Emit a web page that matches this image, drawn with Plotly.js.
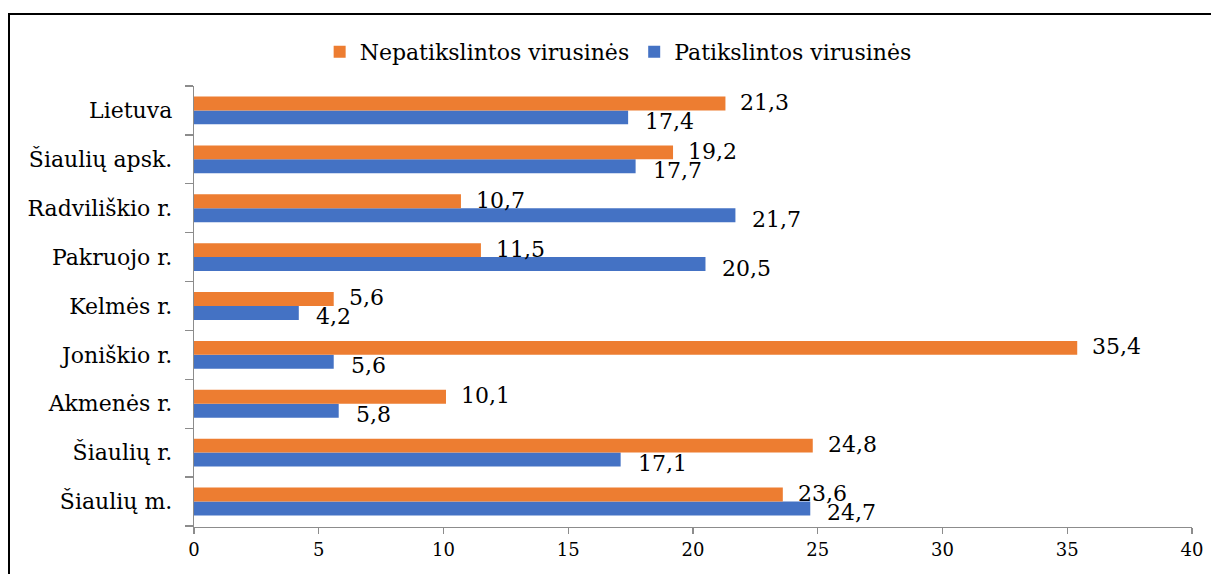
<!DOCTYPE html>
<html>
<head>
<meta charset="utf-8">
<script src="https://cdn.plot.ly/plotly-3.0.1.min.js"></script>
<style>
  html, body { margin: 0; padding: 0; background: #fff; }
  #wrap { position: relative; width: 1211px; height: 574px; overflow: hidden; }
  #chart { width: 1211px; height: 574px; }
  .frameTop { position: absolute; left: 8px; top: 13px; width: 1203px; height: 2px; background: #000; pointer-events: none; }
  .frameLeft { position: absolute; left: 8px; top: 13px; width: 2px; height: 561px; background: #000; pointer-events: none; }
</style>
</head>
<body>
<div id="wrap">
  <div id="chart"></div>
  <div class="frameTop"></div>
  <div class="frameLeft"></div>
</div>
<script>
// Categories listed from bottom to top of the chart
const categories = ['Šiaulių m.', 'Šiaulių r.', 'Akmenės r.', 'Joniškio r.', 'Kelmės r.',
                    'Pakruojo r.', 'Radviliškio r.', 'Šiaulių apsk.', 'Lietuva'];
const nepatikslintos = [23.6, 24.8, 10.1, 35.4, 5.6, 11.5, 10.7, 19.2, 21.3];
const patikslintos   = [24.7, 17.1, 5.8, 5.6, 4.2, 20.5, 21.7, 17.7, 17.4];
const seriesNames = ['Nepatikslintos virusinės', 'Patikslintos virusinės'];
const xTicks = [0, 5, 10, 15, 20, 25, 30, 35, 40];

const FONT = 'DejaVu Serif';
const ORANGE = '#ED7D31';
const BLUE = '#4472C4';

const fmt = v => v.toFixed(1).replace('.', ',');

const traces = [
  {
    type: 'bar', orientation: 'h', name: seriesNames[1],
    y: categories, x: patikslintos,
    marker: { color: BLUE }, legendrank: 2, hoverinfo: 'x+y'
  },
  {
    type: 'bar', orientation: 'h', name: seriesNames[0],
    y: categories, x: nepatikslintos,
    marker: { color: ORANGE }, legendrank: 1, hoverinfo: 'x+y'
  }
];

const annotations = [];
categories.forEach((c, i) => {
  annotations.push({
    xref: 'x', yref: 'y', x: nepatikslintos[i], y: c,
    text: fmt(nepatikslintos[i]), showarrow: false,
    xanchor: 'left', yanchor: 'middle', xshift: 13, yshift: 8,
    font: { family: FONT, size: 22, color: '#000' }
  });
  annotations.push({
    xref: 'x', yref: 'y', x: patikslintos[i], y: c,
    text: fmt(patikslintos[i]), showarrow: false,
    xanchor: 'left', yanchor: 'middle', xshift: 15, yshift: -11,
    font: { family: FONT, size: 22, color: '#000' }
  });
});

const layout = {
  width: 1211, height: 574,
  margin: { l: 194, r: 19, t: 86, b: 47, pad: 0 },
  paper_bgcolor: '#fff', plot_bgcolor: '#fff',
  font: { family: FONT, color: '#000' },
  barmode: 'group', bargap: 0.43, bargroupgap: 0,
  showlegend: true,
  legend: {
    orientation: 'h', x: 0.425, xanchor: 'center', y: 1.077, yanchor: 'middle',
    font: { family: FONT, size: 22, color: '#000' },
    itemwidth: 30, traceorder: 'normal', bgcolor: 'rgba(0,0,0,0)'
  },
  xaxis: {
    range: [0, 40], tickvals: xTicks, ticktext: xTicks.map(String),
    showgrid: false, zeroline: false,
    showline: true, linecolor: '#8c8c8c', linewidth: 1.3,
    ticks: 'outside', ticklen: 6, tickcolor: '#8c8c8c', tickwidth: 1.3,
    tickfont: { family: FONT, size: 18, color: '#000' },
    fixedrange: true
  },
  yaxis: {
    type: 'category', categoryorder: 'array', categoryarray: categories,
    showgrid: false, zeroline: false,
    showline: true, linecolor: '#8c8c8c', linewidth: 1.3,
    ticks: 'outside', tickson: 'boundaries', ticklen: 8, tickcolor: '#8c8c8c', tickwidth: 1.3,
    ticklabelstandoff: 16,
    tickfont: { family: FONT, size: 22, color: '#000' },
    fixedrange: true
  },
  annotations: annotations
};

Plotly.newPlot('chart', traces, layout, { displayModeBar: false, staticPlot: true });
</script>
</body>
</html>
